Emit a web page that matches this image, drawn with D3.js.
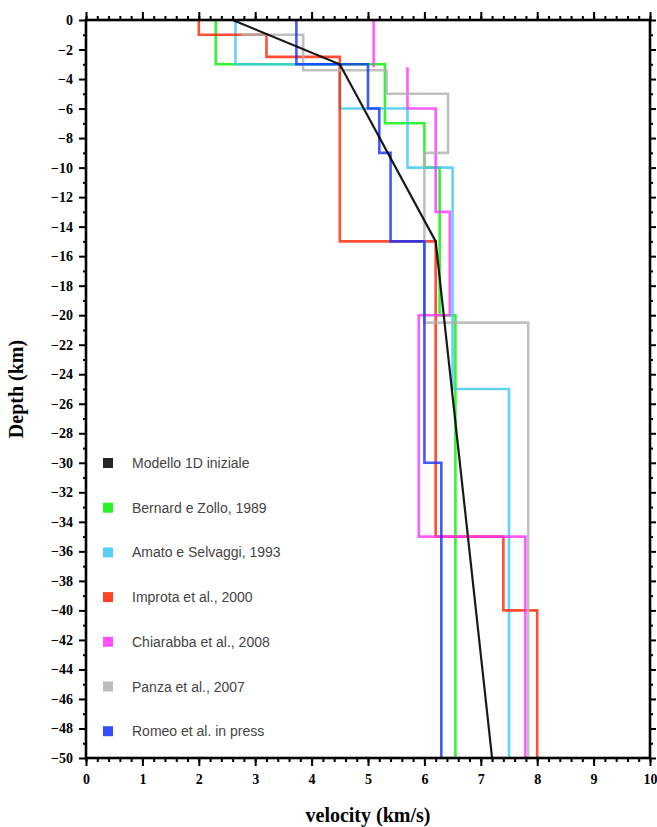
<!DOCTYPE html>
<meta charset="utf-8">
<title>Velocity models</title>
<style>

body {
  margin: 0;
  background: #fff;
}

.axis text {
  font: bold 14px "Liberation Serif", "Times New Roman", serif;
  fill: #000;
}

.axis line {
  stroke: #000;
  stroke-width: 2px;
}

.axis path {
  display: none;
}

.title {
  font: bold 20px "Liberation Serif", "Times New Roman", serif;
  fill: #000;
}

.legend text {
  font: 14px "Liberation Sans", Arial, sans-serif;
  fill: #444;
}

.profile {
  fill: none;
  stroke-width: 2.6px;
  stroke-opacity: .8;
}

</style>
<body>
<script src="https://cdnjs.cloudflare.com/ajax/libs/d3/7.8.5/d3.min.js"></script>
<script>

// velocity (km/s) per layer, and layer boundaries as depth (km, negative down)
var modelV = [2.6, 4.5, 6.2, 7.2],
    modelZ = [0, -3, -15, -50];

var bernardV = [2.3, 5.3, 6.0, 6.27, 6.55],
    bernardZ = [0, -3, -7, -10, -20, -50];

var amatoV = [2.65, 4.5, 5.7, 6.5, 7.5],
    amatoZ = [0, -3, -6, -10, -25, -50];

var improtaV = [2.0, 3.2, 4.5, 6.2, 7.4, 8.0],
    improtaZ = [0, -1, -2.5, -15, -35, -40, -50];

var chiarabbaV = [5.1, 5.7, 6.2, 6.45, 5.9, 7.79],
    chiarabbaZ = [0, -3.2, -6, -13, -20, -35, -50],
    chiarabbaGaps = [1];

var panzaV = [2.75, 3.85, 5.33, 6.42, 6.0, 7.84],
    panzaZ = [-1, -1, -3.4, -5, -9, -20.5, -50];

var romeoV = [3.73, 5.0, 5.2, 5.4, 6.0, 6.3],
    romeoZ = [0, -3, -6, -9, -15, -30, -50];

var legendLabels = ["Modello 1D iniziale", "Bernard e Zollo, 1989", "Amato e Selvaggi, 1993",
    "Improta et al., 2000", "Chiarabba et al., 2008", "Panza et al., 2007", "Romeo et al. in press"];
var colors = ["#000000", "#00f000", "#3cc8f0", "#ff2200", "#ff33ff", "#b0b0b0", "#1030ff"];

var xTicks = d3.range(0, 11, 1),
    yTicks = d3.range(0, -51, -2);

var w = 657,
    h = 827,
    margin = {top: 20, right: 7, bottom: 69, left: 86};

var x = d3.scaleLinear().domain([0, 10]).range([margin.left, w - margin.right]);
var y = d3.scaleLinear().domain([0, -50]).range([margin.top, h - margin.bottom]);

var svg = d3.select("body").append("svg")
    .attr("width", w)
    .attr("height", h);

// stepped profile from layer velocities and boundaries
function steps(v, z, gaps) {
  var pts = [];
  v.forEach(function(vi, i) {
    if (gaps && gaps.indexOf(i) >= 0) pts.push(null);
    pts.push([vi, z[i]], [vi, z[i + 1]]);
  });
  return pts;
}

var line = d3.line()
    .defined(function(d) { return d != null; })
    .x(function(d) { return x(d[0]); })
    .y(function(d) { return y(d[1]); });

var profiles = [
  steps(bernardV, bernardZ),
  steps(amatoV, amatoZ),
  steps(improtaV, improtaZ),
  steps(chiarabbaV, chiarabbaZ, chiarabbaGaps),
  steps(panzaV, panzaZ),
  steps(romeoV, romeoZ)
];

svg.selectAll(".profile.step")
    .data(profiles)
  .enter().append("path")
    .attr("class", "profile step")
    .attr("d", line)
    .style("stroke", function(d, i) { return colors[i + 1]; });

svg.append("path")
    .attr("class", "profile")
    .attr("d", line(modelV.map(function(v, i) { return [v, modelZ[i]]; })))
    .style("stroke", colors[0])
    .style("stroke-width", 2.2)
    .style("stroke-opacity", .9);

// axes: major + minor ticks on all four sides
var minorX = d3.range(0, 10.01, 0.2),
    minorY = d3.range(-1, -50, -2);

svg.append("g").attr("class", "axis")
    .attr("transform", "translate(0," + y(-50) + ")")
    .call(d3.axisBottom(x).tickValues(minorX).tickSize(4).tickFormat(""));
svg.append("g").attr("class", "axis")
    .attr("transform", "translate(0," + y(-50) + ")")
    .call(d3.axisBottom(x).tickValues(xTicks).tickSize(8).tickPadding(8).tickFormat(d3.format("d")));

svg.append("g").attr("class", "axis")
    .attr("transform", "translate(0," + y(0) + ")")
    .call(d3.axisTop(x).tickValues(minorX).tickSize(4).tickFormat(""));
svg.append("g").attr("class", "axis")
    .attr("transform", "translate(0," + y(0) + ")")
    .call(d3.axisTop(x).tickValues(xTicks).tickSize(8).tickFormat(""));

svg.append("g").attr("class", "axis")
    .attr("transform", "translate(" + x(0) + ",0)")
    .call(d3.axisLeft(y).tickValues(minorY).tickSize(3).tickFormat(""));
svg.append("g").attr("class", "axis")
    .attr("transform", "translate(" + x(0) + ",0)")
    .call(d3.axisLeft(y).tickValues(yTicks).tickSize(7).tickPadding(6).tickFormat(d3.format("d")));

svg.append("g").attr("class", "axis")
    .attr("transform", "translate(" + x(10) + ",0)")
    .call(d3.axisRight(y).tickValues(minorY).tickSize(3).tickFormat(""));
svg.append("g").attr("class", "axis")
    .attr("transform", "translate(" + x(10) + ",0)")
    .call(d3.axisRight(y).tickValues(yTicks).tickSize(6).tickFormat(""));

svg.append("rect")
    .attr("x", x(0))
    .attr("y", y(0))
    .attr("width", x(10) - x(0))
    .attr("height", y(-50) - y(0))
    .style("fill", "none")
    .style("stroke", "#000")
    .style("stroke-width", 2.6);

svg.append("text")
    .attr("class", "title")
    .attr("text-anchor", "middle")
    .attr("x", (x(0) + x(10)) / 2)
    .attr("y", 822)
    .text("velocity (km/s)");

svg.append("text")
    .attr("class", "title")
    .attr("text-anchor", "middle")
    .attr("transform", "translate(23,389) rotate(-90)")
    .text("Depth (km)");

// legend
var legend = svg.append("g")
    .attr("class", "legend")
  .selectAll("g")
    .data(legendLabels)
  .enter().append("g")
    .attr("transform", function(d, i) { return "translate(103," + (463 + i * 44.7) + ")"; });

legend.append("rect")
    .attr("x", 0)
    .attr("y", -5)
    .attr("width", 10)
    .attr("height", 10)
    .style("fill", function(d, i) { return colors[i]; })
    .style("opacity", .85);

legend.append("text")
    .attr("x", 29)
    .attr("y", 5)
    .text(function(d) { return d; });

</script>
